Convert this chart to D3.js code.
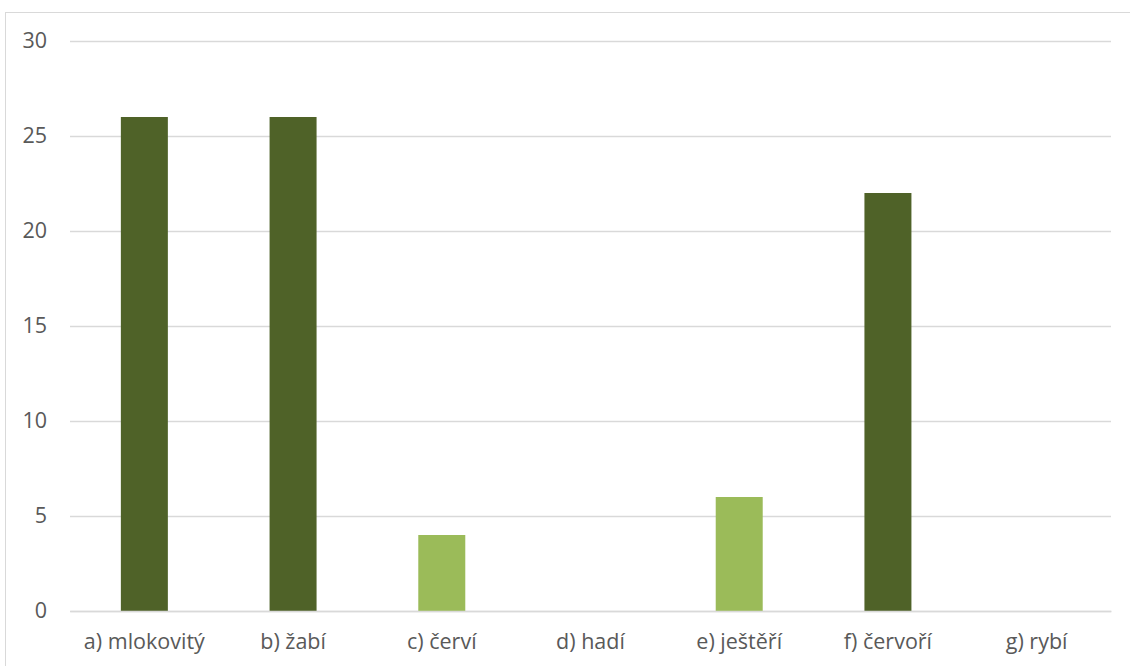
<!DOCTYPE html>
<html>
<head>
<meta charset="utf-8">
<script src="https://cdn.jsdelivr.net/npm/d3@7"></script>
<style>
  html, body { margin: 0; padding: 0; background: #fff; }
  svg { display: block; }
  text { font-family: "Open Sans", "Noto Sans", sans-serif; fill: #595959; }
</style>
</head>
<body>
<svg id="chart" width="1130" height="666"></svg>
<script>
// Categories and counts
const categories = ["a) mlokovitý", "b) žabí", "c) červí", "d) hadí", "e) ještěří", "f) červoří", "g) rybí"];
const values = [26, 26, 4, 0, 6, 22, 0];
// Which bars are highlighted (dark) vs. muted (light)
const groups = ["dark", "dark", "light", "light", "light", "dark", "light"];
const yTicks = [0, 5, 10, 15, 20, 25, 30];

const colors = { dark: "#4F6228", light: "#9BBB59" };

const svg = d3.select("#chart");
const W = 1130, H = 666;
const plot = { left: 70, right: 1111, top: 41, bottom: 611 };
const fontSize = "21.5px";

// Chart area frame
svg.append("rect")
  .attr("x", 5.5).attr("y", 12.5)
  .attr("width", W + 10).attr("height", H + 10)
  .attr("fill", "#fff")
  .attr("stroke", "#D9D9D9").attr("stroke-width", 1);

const x = d3.scaleBand().domain(categories).range([plot.left, plot.right]).padding(0);
const y = d3.scaleLinear().domain([0, 30]).range([plot.bottom, plot.top]);

// Gridlines and y labels
const yAxis = d3.axisLeft(y).tickValues(yTicks).tickSize(-(plot.right - plot.left)).tickPadding(23);
const gy = svg.append("g").attr("transform", `translate(${plot.left},0)`).call(yAxis);
gy.select(".domain").remove();
gy.selectAll(".tick line").attr("stroke", "#D9D9D9").attr("stroke-width", 1.3);
gy.selectAll(".tick text")
  .style("font-size", fontSize).style("fill", "#595959")
  .style("font-family", "'Open Sans', sans-serif")
  .attr("dy", "0.3em");

// Bars
const barW = x.bandwidth() * 0.316;
svg.append("g").selectAll("rect")
  .data(values)
  .join("rect")
  .attr("x", (d, i) => x(categories[i]) + (x.bandwidth() - barW) / 2)
  .attr("y", d => y(d))
  .attr("width", barW)
  .attr("height", d => y(0) - y(d))
  .attr("fill", (d, i) => colors[groups[i]]);

// Category axis
const xAxis = d3.axisBottom(x).tickSize(0).tickPadding(23);
const gx = svg.append("g").attr("transform", `translate(0,${plot.bottom})`).call(xAxis);
gx.select(".domain").attr("stroke", "#D9D9D9").attr("stroke-width", 1.3);
gx.selectAll(".tick text")
  .style("font-size", fontSize).style("fill", "#595959")
  .style("font-family", "'Open Sans', sans-serif");
</script>
</body>
</html>
